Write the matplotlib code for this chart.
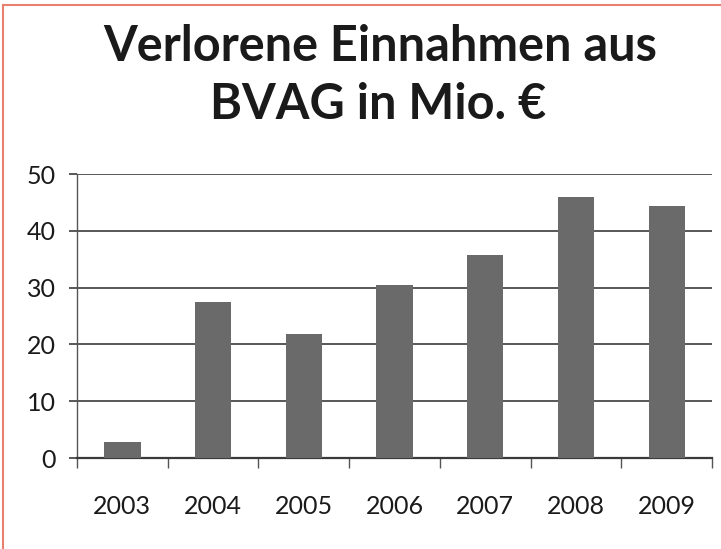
import matplotlib.pyplot as plt
from matplotlib.lines import Line2D

years = ['2003', '2004', '2005', '2006', '2007', '2008', '2009']
einnahmen = [2.9, 27.4, 21.8, 30.4, 35.8, 45.9, 44.4]

plt.rcParams['font.family'] = ['Lato', 'DejaVu Sans']

fig = plt.figure(figsize=(7.21, 5.49), dpi=100)
ax = fig.add_axes([77 / 721, 1 - 458 / 549, 635 / 721, 284 / 549])

x = range(len(years))
ax.bar(x, einnahmen, width=0.4, color='#6a6a6a', zorder=3)

ax.set_xlim(-0.5, len(years) - 0.5)
ax.set_ylim(0, 50)
ax.set_yticks([0, 10, 20, 30, 40, 50])
ax.yaxis.grid(True, color='#4a4a4a', linewidth=1.3, zorder=0)

ax.set_xticks(list(x))
ax.set_xticklabels(years)
ax.set_xticks([i - 0.5 for i in range(len(years) + 1)], minor=True)
ax.tick_params(axis='x', which='major', length=0, pad=27, labelsize=18, labelcolor='#1a1a1a')
ax.tick_params(axis='x', which='minor', length=7, width=1, color='#555555', direction='out')
ax.tick_params(axis='y', length=6, width=1.3, color='#4a4a4a', pad=9, labelsize=18, labelcolor='#1a1a1a')

for s in ['top', 'right']:
    ax.spines[s].set_visible(False)
ax.spines['left'].set_color('#555555')
ax.spines['left'].set_linewidth(1)
ax.spines['bottom'].set_color('#3a3a3a')
ax.spines['bottom'].set_linewidth(1.6)

fig.text(0.527, 1 - 47 / 549, 'Verlorene Einnahmen aus', ha='center', va='center',
         fontsize=35, fontweight='bold', color='#1a1a1a')
fig.text(0.525, 1 - 104 / 549, 'BVAG in Mio. €', ha='center', va='center',
         fontsize=35, fontweight='bold', color='#1a1a1a')

# salmon frame edge (top and left only)
fig.add_artist(Line2D([3 / 721, 3 / 721], [0, 1 - 5 / 549], transform=fig.transFigure,
                      color='#e8806e', linewidth=1.5))
fig.add_artist(Line2D([3 / 721, 1], [1 - 5 / 549, 1 - 5 / 549], transform=fig.transFigure,
                      color='#e8806e', linewidth=1.5))

fig.savefig('out.png', dpi=100)
